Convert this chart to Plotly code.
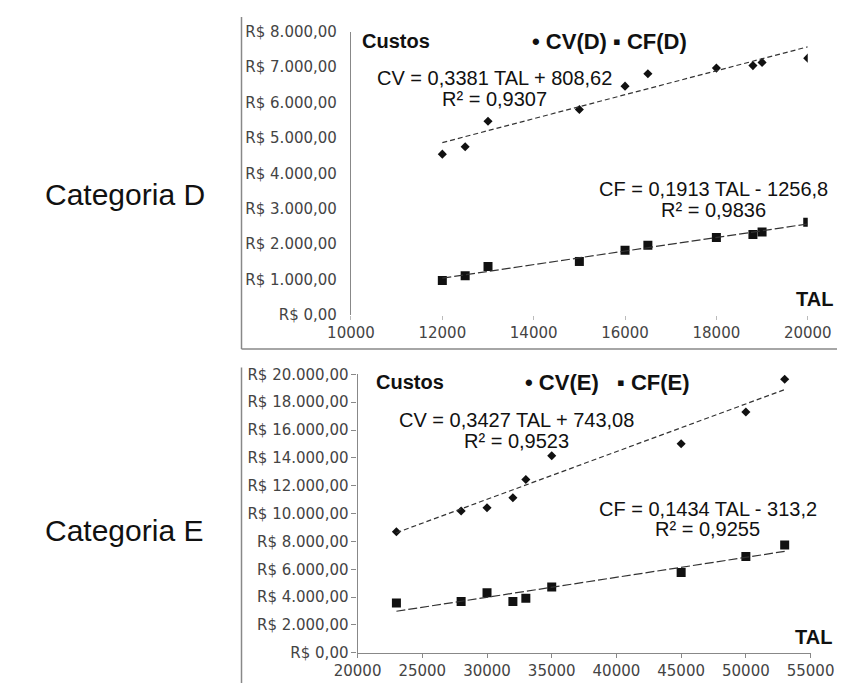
import plotly.graph_objects as go

# ---------------- data ----------------
# Categoria D
tal_d = [12000, 12500, 13000, 15000, 16000, 16500, 18000, 18800, 19000, 20000]
cv_d = [4540, 4750, 5470, 5800, 6460, 6810, 6970, 7040, 7130, 7250]
cf_d = [970, 1110, 1370, 1510, 1830, 1970, 2190, 2270, 2340, 2620]
cv_d_fit = (0.3381, 808.62)
cf_d_fit = (0.1913, -1256.8)

# Categoria E
tal_e = [23000, 28000, 30000, 32000, 33000, 35000, 45000, 50000, 53000]
cv_e = [8700, 10190, 10420, 11140, 12450, 14150, 15010, 17300, 19650]
cf_e = [3570, 3680, 4310, 3680, 3920, 4730, 5760, 6920, 7740]
cv_e_fit = (0.3427, 743.08)
cf_e_fit = (0.1434, -313.2)

ticks_x_d = [10000, 12000, 14000, 16000, 18000, 20000]
ticks_y_d = [0, 1000, 2000, 3000, 4000, 5000, 6000, 7000, 8000]
ticks_x_e = [20000, 25000, 30000, 35000, 40000, 45000, 50000, 55000]
ticks_y_e = [0, 2000, 4000, 6000, 8000, 10000, 12000, 14000, 16000, 18000, 20000]


def brl(v):
    s = f"{v:,.2f}"  # 8,000.00
    s = s.replace(",", "X").replace(".", ",").replace("X", ".")
    return "R$ " + s


W, H = 853, 684


def px(x):
    return x / W


def py(y):
    return 1 - y / H


fig = go.Figure()


def add_series(xs, cv, cf, cvfit, cffit, xa, ya):
    fig.add_trace(go.Scatter(x=xs, y=cv, mode="markers", xaxis=xa, yaxis=ya,
                             marker=dict(symbol="diamond", size=7, color="#111"),
                             showlegend=False))
    fig.add_trace(go.Scatter(x=xs, y=cf, mode="markers", xaxis=xa, yaxis=ya,
                             marker=dict(symbol="square", size=9, color="#111"),
                             showlegend=False))
    x0, x1 = min(xs), max(xs)
    fig.add_trace(go.Scatter(x=[x0, x1], y=[cvfit[0] * x0 + cvfit[1], cvfit[0] * x1 + cvfit[1]],
                             mode="lines", xaxis=xa, yaxis=ya,
                             line=dict(color="#333", width=1.2, dash="5px,3px"),
                             showlegend=False))
    fig.add_trace(go.Scatter(x=[x0, x1], y=[cffit[0] * x0 + cffit[1], cffit[0] * x1 + cffit[1]],
                             mode="lines", xaxis=xa, yaxis=ya,
                             line=dict(color="#333", width=1.2, dash="9px,3px"),
                             showlegend=False))


add_series(tal_d, cv_d, cf_d, cv_d_fit, cf_d_fit, "x", "y")
add_series(tal_e, cv_e, cf_e, cv_e_fit, cf_e_fit, "x2", "y2")

tickfont = dict(family="DejaVu Sans, sans-serif", size=15, color="#444")

fig.update_layout(
    width=W, height=H,
    margin=dict(l=0, r=0, t=0, b=0),
    paper_bgcolor="white", plot_bgcolor="white",
    font=dict(family="Arial, Liberation Sans, sans-serif", color="#111"),
    xaxis=dict(domain=[px(338), px(822)], range=[10000, 20000], anchor="y",
               tickvals=ticks_x_d, ticktext=[str(t) for t in ticks_x_d],
               showline=False, showgrid=False, zeroline=False,
               ticks="outside", ticklen=4, tickcolor="#bbb", tickfont=tickfont),
    yaxis=dict(domain=[py(306), py(15)], range=[0, 8000], anchor="x",
               tickvals=ticks_y_d, ticktext=[brl(t) for t in ticks_y_d],
               showline=True, linecolor="#888", linewidth=1.2,
               showgrid=False, zeroline=False, ticks="", ticklabelstandoff=10,
               tickfont=tickfont),
    xaxis2=dict(domain=[px(345), px(825)], range=[20000, 55000], anchor="y2",
                tickvals=ticks_x_e, ticktext=[str(t) for t in ticks_x_e],
                showline=True, linecolor="#888", linewidth=1.2,
                showgrid=False, zeroline=False,
                ticks="outside", ticklen=4, tickcolor="#888", tickfont=tickfont),
    yaxis2=dict(domain=[py(653), py(367)], range=[0, 20000], anchor="x2",
                tickvals=ticks_y_e, ticktext=[brl(t) for t in ticks_y_e],
                showline=True, linecolor="#888", linewidth=1.2,
                showgrid=False, zeroline=False,
                ticks="outside", ticklen=5, tickcolor="#888", tickfont=tickfont),
)

# frame lines
line_style = dict(color="#888", width=1.5)
fig.add_shape(type="line", xref="paper", yref="paper", x0=px(222), x1=px(222), y0=py(0), y1=py(341), line=line_style)
fig.add_shape(type="line", xref="paper", yref="paper", x0=px(222), x1=1, y0=py(341), y1=py(341), line=line_style)
fig.add_shape(type="line", xref="paper", yref="paper", x0=px(222), x1=px(222), y0=py(360), y1=py(684), line=line_style)


def note(text, x, y, size=20, bold=False, anchor="center"):
    fig.add_annotation(text=f"<b>{text}</b>" if bold else text, xref="paper", yref="paper",
                       x=px(x), y=py(y), xanchor=anchor, yanchor="middle", showarrow=False,
                       font=dict(size=size, color="#111", family="Arial, Liberation Sans, sans-serif"))


note("Categoria D", 12, 182, size=30, anchor="left")
note("Categoria E", 12, 527, size=30, anchor="left")

note("Custos", 348, 25, size=20, bold=True, anchor="left")
note("• CV(D) ▪ CF(D)", 528, 25, size=22, bold=True, anchor="left")
note("TAL", 851, 290, size=20, bold=True, anchor="right")
note("CV = 0,3381 TAL + 808,62", 490, 63)
note("R² = 0,9307", 490, 84)
note("CF = 0,1913 TAL - 1256,8", 722, 177)
note("R² = 0,9836", 722, 198)

note("Custos", 362, 375, size=20, bold=True, anchor="left")
note("• CV(E) &nbsp; ▪ CF(E)", 520, 375, size=22, bold=True, anchor="left")
note("TAL", 850, 637, size=20, bold=True, anchor="right")
note("CV = 0,3427 TAL + 743,08", 513, 414)
note("R² = 0,9523", 513, 435)
note("CF = 0,1434 TAL - 313,2", 716, 505)
note("R² = 0,9255", 716, 526)

fig.write_html("out.html")
